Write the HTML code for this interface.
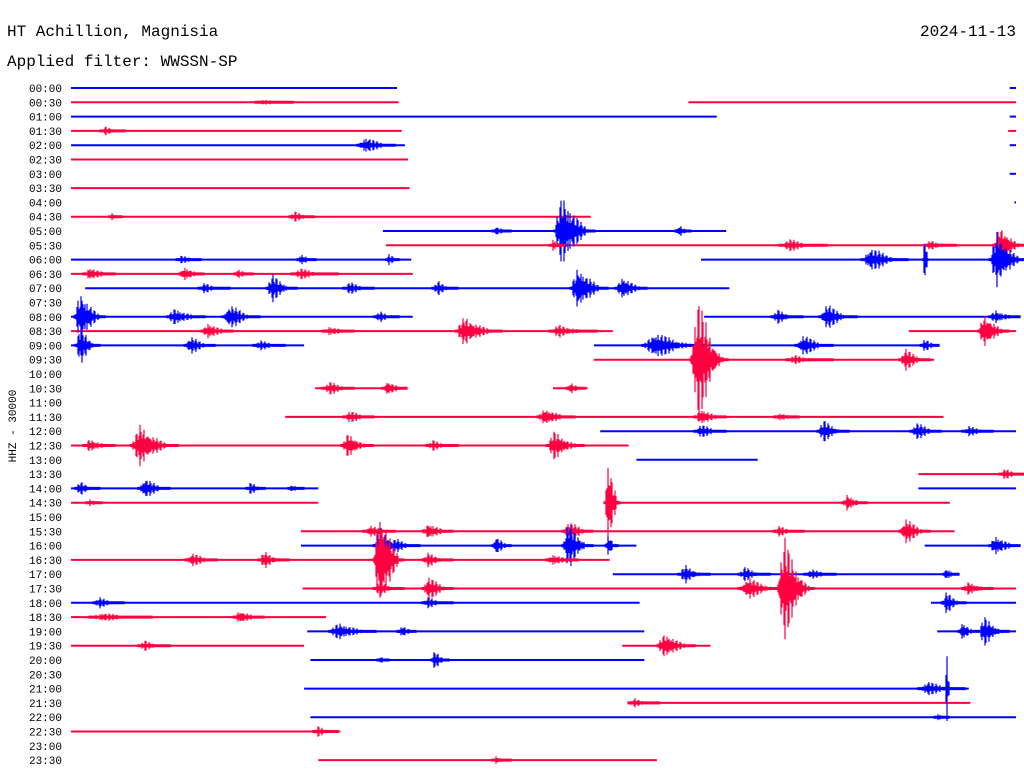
<!DOCTYPE html>
<html><head><meta charset="utf-8"><style>
html,body{margin:0;padding:0;background:#fff;}
svg{display:block;}
text{font-family:"Liberation Mono",monospace;fill:#000;}
</style></head><body>
<svg id="chart" width="1024" height="780" viewBox="0 0 1024 780" xmlns="http://www.w3.org/2000/svg">
<text x="7" y="36" font-size="16">HT Achillion, Magnisia</text>
<text x="1016" y="36" font-size="16" text-anchor="end">2024-11-13</text>
<text x="7" y="66" font-size="16">Applied filter: WWSSN-SP</text>
<text transform="translate(16,426) rotate(-90)" font-size="11" text-anchor="middle">HHZ - 30000</text>
<g id="labels"></g>
<g id="traces"></g>
</svg>
<script>
const rowLabels = [];
for (let h = 0; h < 24; h++) { const hh = String(h).padStart(2,'0'); rowLabels.push(hh+':00', hh+':30'); }
const segments = [
[0,0,10.35],[0,29.8,30],[1,0,10.4],[1,19.6,30],[2,0,20.5],[2,29.8,30],[3,0,10.5],[3,29.75,30],
[4,0,10.6],[4,29.8,30],[5,0,10.7],[6,29.8,30],[7,0,10.75],[8,29.95,30],[9,0,16.5],
[10,9.9,20.8],[11,10,30],[12,0,10.8],[12,20,30],[13,0,10.85],[14,0.45,20.9],
[16,0,10.85],[16,20.1,30],[17,0,17.2],[17,26.6,30],[18,0,7.4],[18,16.6,27.4],[19,16.6,27.4],
[21,7.75,10.5],[21,15.3,16.4],[23,6.8,27.7],[24,16.8,30],[25,0,17.7],[26,17.95,21.8],
[27,26.9,30],[28,0,7.85],[28,26.9,30],[29,0,7.85],[29,17.2,27.9],[31,7.3,28.05],
[32,7.3,17.95],[32,27.1,30],[33,0,17.1],[34,17.2,28.1],[35,7.35,30],[36,0,18.05],[36,27.3,30],
[37,0,8.1],[38,7.5,18.2],[38,27.5,30],[39,0,7.4],[39,17.5,20.3],[40,7.6,18.2],
[42,7.4,28.5],[43,17.7,28.55],[44,7.6,30],[45,0,8.55],[47,7.85,18.6]
];
// events: [row, minute, amplitude(px), duration(min)]
const events = [
[1,6.1,3,1.2],[3,1.1,5,0.8],[4,9.35,10,1.2],[9,1.3,4,0.4],[9,7.1,6,0.8],
[10,15.6,42,1.3],[10,13.5,6,0.6],[10,19.3,7,0.5],[11,29.5,22,1],[11,22.8,7,1.5],[11,27.3,6,1],[11,15.3,8,0.5],
[12,25.4,14,1.5],[12,29.4,30,1.2],[12,27.1,50,0.15],[12,10.1,7,0.4],[12,7.3,7,0.6],[12,3.5,5,0.8],
[13,0.6,8,1],[13,3.6,9,0.8],[13,5.3,6,0.6],[13,7.3,6,1.5],
[14,6.4,15,1],[14,11.65,8,0.8],[14,16.1,25,1.2],[14,17.5,14,1],[14,8.85,7,1],[14,4.25,6,1],
[16,0.3,30,1],[16,3.3,10,1.2],[16,5.05,14,1.2],[16,22.45,8,1],[16,24,14,1.2],[16,29.35,8,1],[16,9.8,6,0.8],
[17,12.5,16,1.5],[17,4.35,10,1],[17,29,20,1],[17,15.5,7,1.5],[17,8.2,6,1],
[18,18.55,15,2],[18,23.25,12,1.2],[18,3.8,10,1],[18,0.3,20,0.8],[18,27.1,8,0.6],[18,6,6,1],
[19,19.9,68,1.2],[19,26.5,12,1],[19,23,5,1.5],
[21,8.2,8,1],[21,10.05,9,0.8],[21,15.85,7,0.6],
[23,15.05,10,1.2],[23,20,10,1],[23,8.85,7,1],[23,22.5,5,0.8],
[24,23.9,12,1],[24,26.85,10,1],[24,20,8,1],[24,28.5,6,1],
[25,2.2,22,1.5],[25,0.6,8,1],[25,8.8,14,1],[25,15.35,16,1.2],[25,11.5,6,1],
[27,29.65,6,0.8],[28,2.35,12,1],[28,0.3,8,0.8],[28,5.7,7,0.6],[28,7,5,0.5],
[29,17.05,55,0.5],[29,24.65,10,0.8],[29,0.6,5,0.5],
[31,15.8,12,1],[31,26.5,15,1],[31,11.35,10,1],[31,9.5,7,1],[31,22.5,6,1],
[32,9.8,20,1],[32,15.8,25,1],[32,13.5,12,0.6],[32,10.3,8,1],[32,29.35,12,1],[32,17.05,15,0.4],
[33,9.8,60,1],[33,6.15,9,1],[33,3.85,8,1],[33,11.35,8,1],[33,15.3,7,1],
[34,19.5,10,1],[34,21.4,8,1],[34,23.5,6,1],[34,27.8,8,0.5],
[35,22.65,55,1.2],[35,11.35,14,1],[35,21.5,12,1.5],[35,9.8,8,1],[35,28.5,8,1],
[36,0.9,6,1],[36,11.35,6,1],[36,27.8,12,0.8],
[37,5.35,8,1],[37,1,5,2],
[38,8.5,10,1.5],[38,10.5,8,0.6],[38,29,16,1],[38,28.3,12,0.6],
[39,18.85,15,1.2],[39,2.35,6,1],[40,11.55,10,0.6],[40,9.8,5,0.4],
[42,27.2,8,1.5],[42,27.8,55,0.15],[43,17.9,5,1],[44,27.5,5,0.5],[45,7.85,6,0.8],[47,13.5,5,0.6]
];
const x0 = 71, x1 = 1016, yTop = 88, rowGap = 14.3;
const xs = m => x0 + m * (x1 - x0) / 30;
const ys = r => yTop + r * rowGap;
const color = r => r % 2 === 0 ? '#0000ff' : '#ff0040';
const NS = 'http://www.w3.org/2000/svg';
const lg = document.getElementById('labels'), tg = document.getElementById('traces');
rowLabels.forEach((l, r) => {
  const t = document.createElementNS(NS, 'text');
  
  
  t.setAttribute('x', 62); t.setAttribute('y', ys(r) + 4);
  t.setAttribute('font-size', '11'); t.setAttribute('text-anchor', 'end');
  t.textContent = l; lg.appendChild(t);
});
segments.forEach(([r, a, b]) => {
  const ln = document.createElementNS(NS, 'line');
  
  
  ln.setAttribute('x1', xs(a)); ln.setAttribute('x2', xs(b));
  ln.setAttribute('y1', ys(r)); ln.setAttribute('y2', ys(r));
  ln.setAttribute('stroke', color(r)); ln.setAttribute('stroke-width', '2');
  tg.appendChild(ln);
});
events.forEach(([r, m, amp, dur]) => {
  const cx = xs(m), y = ys(r);
  const len = dur * 31.5;
  const start = cx - len * 0.2, end = cx + len * 0.8;
  let d = '';
  for (let x = Math.floor(start); x <= end; x++) {
    const u = (x - start) / (end - start);
    const env = u < 0.2 ? u / 0.2 : Math.pow(1 - (u - 0.2) / 0.8, 1.8);
    const s = Math.abs(Math.sin(x * 2.37 + m * 7.1) * Math.sin(x * 0.91 + r));
    const v = 0.3 + 0.7 * Math.pow(s, 1.1);
    const h = Math.max(1.5, amp * env * v);
    d += 'M' + x + ' ' + (y - h).toFixed(1) + 'V' + (y + h).toFixed(1);
  }
  const p = document.createElementNS(NS, 'path');
  
  
  p.setAttribute('d', d); p.setAttribute('stroke', color(r)); p.setAttribute('stroke-width', '1.2');
  p.setAttribute('fill', 'none');
  tg.appendChild(p);
});
</script>
</body></html>
